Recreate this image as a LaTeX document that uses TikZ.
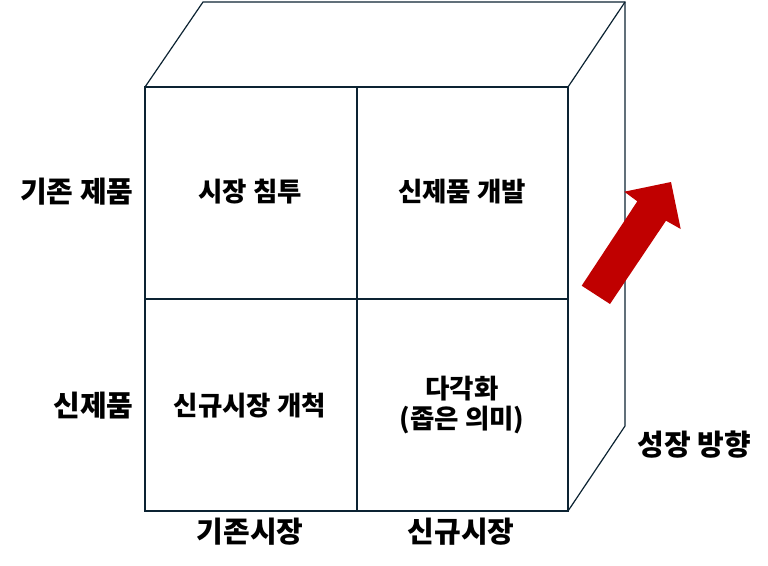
\documentclass[tikz,border=0pt]{standalone}
\usepackage{fontspec}
\setmainfont{Noto Sans CJK KR}
\usepackage{tikz}
\usetikzlibrary{calc}
\definecolor{edge}{RGB}{12,35,50}
\definecolor{growred}{RGB}{192,0,0}
\tikzset{
    cube/.style={draw=edge, line width=1.2pt, line join=miter},
    celltext/.style={font=\fontsize{26.5}{30}\selectfont\bfseries, align=center},
    sidetext/.style={font=\fontsize{29}{33}\selectfont\bfseries}
}

\begin{document}
\begin{tikzpicture}[x=1pt,y=-1pt]
        \useasboundingbox (0,0) rectangle (768,565);
        % cube outline
        \draw[cube] (145,87) rectangle (568,511);
        \draw[cube] (145,87) -- (203,2) -- (625,2) -- (625,426) -- (568,511);
        \draw[cube] (568,87) -- (625,2);
        \draw[cube] (357,87) -- (357,511);
        \draw[cube] (145,299) -- (568,299);
        % growth arrow
        \fill[growred] (581.7,285.7) -- (610,304) -- (666,220.7) -- (680.7,229)
            -- (671,182) -- (624.3,191.7) -- (637.3,201.3) -- cycle;
        % cell texts
        \node[celltext] (pen) at (250,192) {시장 침투};
        \node[celltext] (dev) at (462,192) {신제품 개발};
        \node[celltext] (mkt) at (250,406) {신규시장 개척};
        \node[celltext] (div) at (462,405) {다각화\\(좁은 의미)};
        % axis labels
        \node[sidetext, anchor=east] (oldprod) at (137,192) {기존 제품};
        \node[sidetext, anchor=east] (newprod) at (137,406) {신제품};
        \node[sidetext] (oldmkt) at (250,532) {기존시장};
        \node[sidetext] (newmkt) at (461,532) {신규시장};
        \node[sidetext] (growth) at (694,445) {성장 방향};
    \end{tikzpicture}
\end{document}
